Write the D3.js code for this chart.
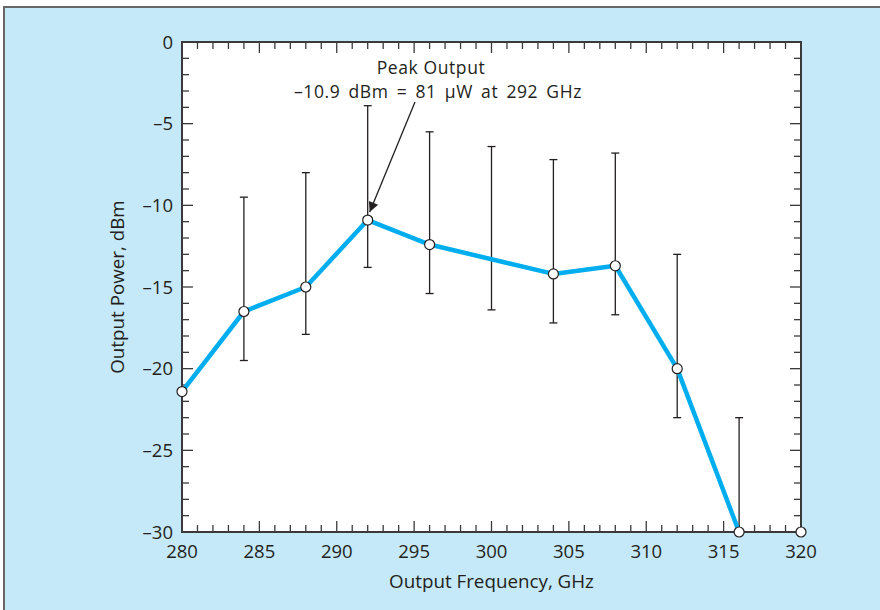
<!DOCTYPE html>
<html>
<head>
<meta charset="utf-8">
<script src="https://cdn.jsdelivr.net/npm/d3@7"></script>
<style>
  body { margin: 0; background: #fff; }
  text { font-family: "Open Sans", sans-serif; fill: #231f20; }
</style>
</head>
<body>
<svg id="chart" width="880" height="610"></svg>
<script>
// frequencies (GHz)
var freqs = [280, 284, 288, 292, 296, 300, 304, 308, 312, 316, 320];
// measured power (dBm), null where no marker
var power = [-21.4, -16.5, -15.0, -10.9, -12.4, null, -14.2, -13.7, -20.0, -30.0, -30.0];
// error bar ends (dBm), null where no bar
var errTop = [null, -9.5, -8.0, -3.9, -5.5, -6.4, -7.2, -6.8, -13.0, -23.0, null];
var errBottom = [null, -19.5, -17.9, -13.8, -15.4, -16.4, -17.2, -16.7, -23.0, -30.0, null];
var xTicks = [280, 285, 290, 295, 300, 305, 310, 315, 320];
var yTicks = [0, -5, -10, -15, -20, -25, -30];
var peakLines = ["Peak Output", "\u201310.9 dBm = 81 \u03bcW at 292 GHz"];

var svg = d3.select("#chart");
var m = {left: 182, top: 42, right: 801, bottom: 532};

// panel background
svg.append("rect")
  .attr("x", 4).attr("y", 7)
  .attr("width", 900).attr("height", 700)
  .attr("fill", "#c6e9f9")
  .attr("stroke", "#666")
  .attr("stroke-width", 2);

svg.append("rect")
  .attr("x", m.left).attr("y", m.top)
  .attr("width", m.right - m.left).attr("height", m.bottom - m.top)
  .attr("fill", "#fff");

var x = d3.scaleLinear().domain([280, 320]).range([m.left, m.right]);
var y = d3.scaleLinear().domain([-30, 0]).range([m.bottom, m.top]);

var minorX = d3.range(280, 321, 1);
var minorY = d3.range(-30, 1, 1);

function tickLen(v) { return v % 5 === 0 ? 11 : 7; }

// ticks pointing inward on all four sides
var ticks = svg.append("g").attr("stroke", "#3a3a3a").attr("stroke-width", 1.3);
minorX.forEach(function (v) {
  if (v === 280 || v === 320) return;
  ticks.append("line").attr("x1", x(v)).attr("x2", x(v))
    .attr("y1", m.bottom).attr("y2", m.bottom - tickLen(v));
  ticks.append("line").attr("x1", x(v)).attr("x2", x(v))
    .attr("y1", m.top).attr("y2", m.top + tickLen(v));
});
minorY.forEach(function (v) {
  if (v === -30 || v === 0) return;
  ticks.append("line").attr("y1", y(v)).attr("y2", y(v))
    .attr("x1", m.left).attr("x2", m.left + tickLen(v));
  ticks.append("line").attr("y1", y(v)).attr("y2", y(v))
    .attr("x1", m.right).attr("x2", m.right - tickLen(v));
});

svg.append("rect")
  .attr("x", m.left).attr("y", m.top)
  .attr("width", m.right - m.left).attr("height", m.bottom - m.top)
  .attr("fill", "none").attr("stroke", "#3a3a3a").attr("stroke-width", 2);

// tick labels
svg.selectAll(".xl").data(xTicks).enter().append("text")
  .attr("x", function (d) { return x(d); })
  .attr("y", m.bottom + 26)
  .attr("text-anchor", "middle")
  .attr("font-size", 18.5)
  .text(function (d) { return d; });

svg.selectAll(".yl").data(yTicks).enter().append("text")
  .attr("x", m.left - 9)
  .attr("y", function (d) { return y(d) + 6.5; })
  .attr("text-anchor", "end")
  .attr("font-size", 18.5)
  .text(function (d) { return d === 0 ? "0" : "\u2013" + Math.abs(d); });

svg.append("text")
  .attr("x", (m.left + m.right) / 2).attr("y", 588)
  .attr("text-anchor", "middle").attr("font-size", 18.8)
  .text("Output Frequency, GHz");

svg.append("text")
  .attr("transform", "translate(124," + (m.top + m.bottom) / 2 + ") rotate(-90)")
  .attr("text-anchor", "middle").attr("font-size", 18.8)
  .text("Output Power, dBm");

// error bars
var bars = freqs.map(function (f, i) { return {f: f, hi: errTop[i], lo: errBottom[i]}; })
  .filter(function (d) { return d.hi !== null; });
var eb = svg.append("g").attr("stroke", "#231f20").attr("stroke-width", 1.3);
bars.forEach(function (d) {
  eb.append("line").attr("x1", x(d.f)).attr("x2", x(d.f))
    .attr("y1", y(d.hi)).attr("y2", y(d.lo));
  eb.append("line").attr("x1", x(d.f) - 4).attr("x2", x(d.f) + 4)
    .attr("y1", y(d.hi)).attr("y2", y(d.hi));
  if (d.lo > -30) {
    eb.append("line").attr("x1", x(d.f) - 4).attr("x2", x(d.f) + 4)
      .attr("y1", y(d.lo)).attr("y2", y(d.lo));
  }
});

// data line (ends at 316 GHz; the 320 GHz point is a lone marker)
var pts = freqs.map(function (f, i) { return {f: f, p: power[i]}; })
  .filter(function (d) { return d.p !== null; });
svg.append("path")
  .datum(pts.filter(function (d) { return d.f <= 316; }))
  .attr("fill", "none")
  .attr("stroke", "#00aeef")
  .attr("stroke-width", 4.5)
  .attr("stroke-linejoin", "round")
  .attr("d", d3.line().x(function (d) { return x(d.f); }).y(function (d) { return y(d.p); }));

svg.selectAll(".pt").data(pts).enter().append("circle")
  .attr("cx", function (d) { return x(d.f); })
  .attr("cy", function (d) { return y(d.p); })
  .attr("r", 5)
  .attr("fill", "#fff")
  .attr("stroke", "#231f20")
  .attr("stroke-width", 1.2);

// annotation
svg.append("defs").append("marker")
  .attr("id", "arrow")
  .attr("viewBox", "0 0 10 10")
  .attr("refX", 10).attr("refY", 5)
  .attr("markerWidth", 14).attr("markerHeight", 10)
  .attr("markerUnits", "userSpaceOnUse")
  .attr("orient", "auto")
  .append("path").attr("d", "M0,0 L10,5 L0,10 Z").attr("fill", "#231f20");

svg.append("line")
  .attr("x1", 415).attr("y1", 102)
  .attr("x2", x(292) + 2).attr("y2", y(-10.9) - 8)
  .attr("stroke", "#231f20").attr("stroke-width", 1.3)
  .attr("marker-end", "url(#arrow)");

svg.selectAll(".ann").data(peakLines).enter().append("text")
  .attr("x", function (d, i) { return i === 0 ? 431 : 438; })
  .attr("y", function (d, i) { return 74 + i * 24; })
  .attr("text-anchor", "middle").attr("font-size", 17.5)
  .attr("letter-spacing", 0.6)
  .attr("word-spacing", function (d, i) { return i === 0 ? 0 : 3; })
  .text(function (d) { return d; });
</script>
</body>
</html>
